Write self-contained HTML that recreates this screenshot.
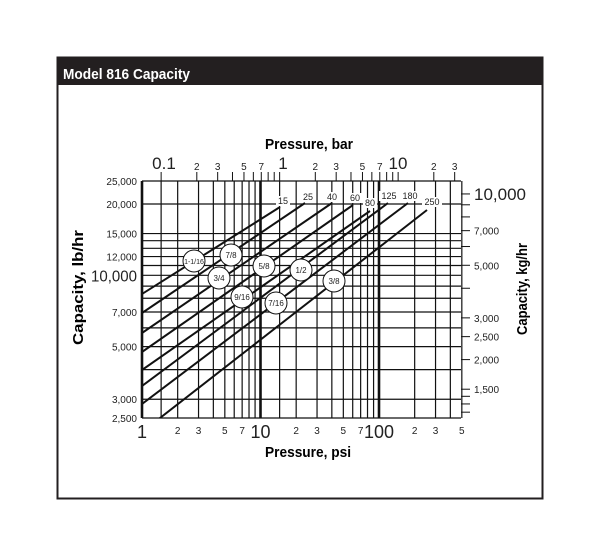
<!DOCTYPE html>
<html><head><meta charset="utf-8">
<style>
html,body{margin:0;padding:0;background:#fff;}
svg{display:block;font-family:"Liberation Sans",sans-serif;}
</style></head>
<body>
<svg id="s" width="600" height="557" viewBox="0 0 600 557" xmlns="http://www.w3.org/2000/svg">
<rect x="57.5" y="57.5" width="485" height="441" fill="#fff" stroke="#231f20" stroke-width="2"/>
<rect x="57" y="57" width="486" height="28" fill="#231f20"/>
<text x="63" y="79" fill="#fff" font-size="15" font-weight="bold" textLength="127" lengthAdjust="spacingAndGlyphs">Model 816 Capacity</text>
<text x="265" y="149" font-size="15" font-weight="bold" textLength="88" lengthAdjust="spacingAndGlyphs">Pressure, bar</text>
<text x="265" y="457" font-size="15" font-weight="bold" textLength="86" lengthAdjust="spacingAndGlyphs">Pressure, psi</text>
<text transform="translate(83,345) rotate(-90)" font-size="15" font-weight="bold" textLength="115" lengthAdjust="spacingAndGlyphs">Capacity, lb/hr</text>
<text transform="translate(527,335) rotate(-90)" font-size="15" font-weight="bold" textLength="92" lengthAdjust="spacingAndGlyphs">Capacity, kg/hr</text>
<g id="g" stroke="#111" fill="none"></g>
<g id="t" fill="#222"></g>
</svg>
<script>
var NS="http://www.w3.org/2000/svg",g=document.getElementById('g'),t=document.getElementById('t'),S=document.getElementById('s');
function X(p){return 142+118.5*Math.log10(p);}
function Y(v){return 181+237*(Math.log10(25000)-Math.log10(v));}
function el(par,n,a,txt){var e=document.createElementNS(NS,n);for(var k in a)e.setAttribute(k,a[k]);if(txt!=null)e.textContent=txt;par.appendChild(e);return e;}
function ln(x1,y1,x2,y2,w){el(g,'line',{x1:x1,y1:y1,x2:x2,y2:y2,'stroke-width':w||1});}
function tx(x,y,s,size,anchor,tl){var a={x:x,y:y,'font-size':size,'text-anchor':anchor||'middle'};if(tl){a.textLength=tl;a.lengthAdjust='spacingAndGlyphs';}el(t,'text',a,s);}
var T=181,B=418,R=461;
var ps=[2,3,4,5,6,7,8,9,20,30,40,50,60,70,80,90,200,300,400,500];
ps.forEach(function(p){ln(X(p),T,X(p),B,1.2);});
[1.45,14.5].forEach(function(p){ln(X(p),T,X(p),B,1.2);});
ln(142,T,142,B,2.6);ln(X(10),T,X(10),B,2.6);ln(X(100),T,X(100),B,2.6);
[25000,20000,15000,14000,13000,12000,11000,10000,9000,8000,7000,6000,5000,4000,3000,2500].forEach(function(v){ln(142,Y(v),R,Y(v),1.2);});
var bars=[0.1,0.2,0.3,0.4,0.5,0.6,0.7,0.8,0.9,1,2,3,4,5,6,7,8,9,10,20,30];
bars.forEach(function(b){var x=X(b*14.5038);ln(x,172,x,T,1);});
tx(164,169,'0.1',17);tx(283,169,'1',17);tx(398,169,'10',17);
[[0.2,'2'],[0.3,'3'],[0.5,'5'],[0.7,'7'],[2,'2'],[3,'3'],[5,'5'],[7,'7'],[20,'2'],[30,'3']].forEach(function(a){tx(X(a[0]*14.5038),170,a[1],10);});
[10000,9000,8000,7000,6000,5000,4000,3000,2500,2000,1500,1400,1300,1200].forEach(function(k){var y=Y(k*2.2046);ln(R,y,470,y,1);});
[['10,000',10000,17],['7,000',7000,10],['5,000',5000,10],['3,000',3000,10],['2,500',2500,10],['2,000',2000,10],['1,500',1500,10]].forEach(function(a){tx(474,Y(a[1]*2.2046)+(a[2]>12?6:4),a[0],a[2],'start');});
[['25,000',25000],['20,000',20000],['15,000',15000],['12,000',12000],['7,000',7000],['5,000',5000],['3,000',3000],['2,500',2500]].forEach(function(a){tx(137,Y(a[1])+4,a[0],10,'end');});
tx(137,Y(10000)+6,'10,000',16,'end',46);
tx(142,438,'1',18);tx(X(10),438,'10',18);tx(X(100),438,'100',18);
[[2,'2'],[3,'3'],[5,'5'],[7,'7'],[20,'2'],[30,'3'],[50,'5'],[70,'7'],[200,'2'],[300,'3'],[500,'5']].forEach(function(a){tx(X(a[0]),434,a[1],10);});
var cp=el(S,'clipPath',{id:'cp'});el(cp,'rect',{x:142,y:T,width:R-142,height:B-T});
var lg=el(S,'g',{'clip-path':'url(#cp)',stroke:'#111',fill:'none'});
var lt=el(S,'g',{});
var lines=[[142,294,280,207],[142,313,305,203],[142,333,332,203],[142,352,353,205],[142,370,370,211],[142,386,388,203],[142,404,408,203],[160,418,427,210]];
lines.forEach(function(L){
 var sl=(L[1]-L[3])/(L[2]-L[0]);var x0=L[0]-20,y0=L[1]+20*sl;
 el(lg,'line',{x1:x0,y1:y0,x2:L[2],y2:L[3],'stroke-width':2});
});
var lab=[[283,204,'15'],[308,200,'25'],[332,200,'40'],[355,201,'60'],[370,206,'80'],[389,199,'125'],[410,199,'180'],[432,205,'250']];
lab.forEach(function(a){el(lt,'rect',{x:a[0]-a[2].length*3-1,y:a[1]-8,width:a[2].length*6+2,height:10,fill:'#fff'});el(lt,'text',{x:a[0],y:a[1],'font-size':9,'text-anchor':'middle',fill:'#222'},a[2]);});
var circ=[[194,261,'1-1/16'],[231,255,'7/8'],[219,278,'3/4'],[264,266,'5/8'],[301,270,'1/2'],[242,297,'9/16'],[276,303,'7/16'],[334,281,'3/8']];
circ.forEach(function(a){el(lt,'circle',{cx:a[0],cy:a[1],r:11,fill:'#fff',stroke:'#111','stroke-width':1});el(lt,'text',{x:a[0],y:a[1]+3,'font-size':a[2].length>4?7:8,'text-anchor':'middle',fill:'#222'},a[2]);});
</script>
</body></html>
